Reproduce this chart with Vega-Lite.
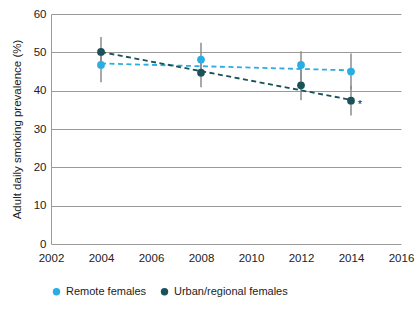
{
  "$schema": "https://vega.github.io/schema/vega-lite/v6.json",
  "width": 350,
  "height": 230,
  "autosize": {"type": "none"},
  "padding": {"left": 51, "top": 14, "right": 19, "bottom": 71},
  "background": "white",
  "config": {
    "font": "Liberation Sans",
    "view": {"stroke": null},
    "axis": {"labelFont": "Liberation Sans", "titleFont": "Liberation Sans", "labelColor": "#222", "titleColor": "#222", "labelFontSize": 11.5, "titleFontSize": 11.5, "titleFontWeight": "normal", "labelOverlap": false, "labelFlush": false, "labelBound": false}
  },
  "datasets": {
    "pts": [
      {"year": 2004, "series": "Remote females", "value": 46.7, "lo": 42.2, "hi": 51.2, "note": ""},
      {"year": 2008, "series": "Remote females", "value": 48.1, "lo": 43.6, "hi": 52.5, "note": ""},
      {"year": 2012, "series": "Remote females", "value": 46.7, "lo": 42.6, "hi": 50.3, "note": ""},
      {"year": 2014, "series": "Remote females", "value": 45.0, "lo": 40.3, "hi": 49.7, "note": ""},
      {"year": 2004, "series": "Urban/regional females", "value": 50.1, "lo": 46.4, "hi": 54.0, "note": ""},
      {"year": 2008, "series": "Urban/regional females", "value": 44.7, "lo": 40.9, "hi": 48.5, "note": ""},
      {"year": 2012, "series": "Urban/regional females", "value": 41.4, "lo": 37.5, "hi": 45.3, "note": ""},
      {"year": 2014, "series": "Urban/regional females", "value": 37.4, "lo": 33.5, "hi": 41.3, "note": "*"}
    ],
    "trend": [
      {"year": 2004, "series": "Remote females", "trend": 47.1},
      {"year": 2014, "series": "Remote females", "trend": 45.3},
      {"year": 2004, "series": "Urban/regional females", "trend": 50.1},
      {"year": 2014, "series": "Urban/regional females", "trend": 37.6}
    ]
  },
  "layer": [
    {
      "data": {"name": "pts"},
      "mark": {"type": "rule", "color": "#8c8c8c", "strokeWidth": 1.5},
      "encoding": {
        "x": {"field": "year", "type": "quantitative", "scale": {"domain": [2002, 2016], "nice": false, "zero": false},
              "axis": {"title": null, "values": [2002, 2004, 2006, 2008, 2010, 2012, 2014, 2016], "tickCount": 10, "format": "d", "grid": false, "domain": false, "ticks": false, "labelPadding": 8}},
        "y": {"field": "lo", "type": "quantitative", "scale": {"domain": [0, 60], "nice": false},
              "axis": {"title": "Adult daily smoking prevalence (%)", "values": [0, 10, 20, 30, 40, 50, 60], "tickCount": 10, "grid": true, "gridColor": "#9a9a9a", "gridWidth": 1, "domainColor": "#9a9a9a", "ticks": false, "labelPadding": 5, "titlePadding": 11}},
        "y2": {"field": "hi"}
      }
    },
    {
      "data": {"name": "trend"},
      "mark": {"type": "line", "strokeDash": [5, 3.5], "strokeWidth": 1.8},
      "encoding": {
        "x": {"field": "year", "type": "quantitative"},
        "y": {"field": "trend", "type": "quantitative"},
        "color": {"field": "series", "type": "nominal", "scale": {"domain": ["Remote females", "Urban/regional females"], "range": ["#2aade3", "#1b5259"]},
                  "legend": {"title": null, "orient": "none", "legendX": 0, "legendY": 272, "direction": "horizontal", "symbolType": "circle", "symbolSize": 55, "symbolStrokeWidth": 0, "symbolFillColor": null, "labelFontSize": 11, "labelFont": "Liberation Sans", "labelColor": "#222", "columnPadding": 12}},
        "detail": {"field": "series"}
      }
    },
    {
      "data": {"name": "pts"},
      "mark": {"type": "point", "filled": true, "opacity": 1, "size": 60},
      "encoding": {
        "x": {"field": "year", "type": "quantitative"},
        "y": {"field": "value", "type": "quantitative"},
        "color": {"field": "series", "type": "nominal"}
      }
    },
    {
      "data": {"name": "pts"},
      "mark": {"type": "text", "dx": 9, "dy": 4, "fontSize": 11, "color": "#222"},
      "encoding": {
        "x": {"field": "year", "type": "quantitative"},
        "y": {"field": "value", "type": "quantitative"},
        "text": {"field": "note"}
      }
    }
  ]
}
